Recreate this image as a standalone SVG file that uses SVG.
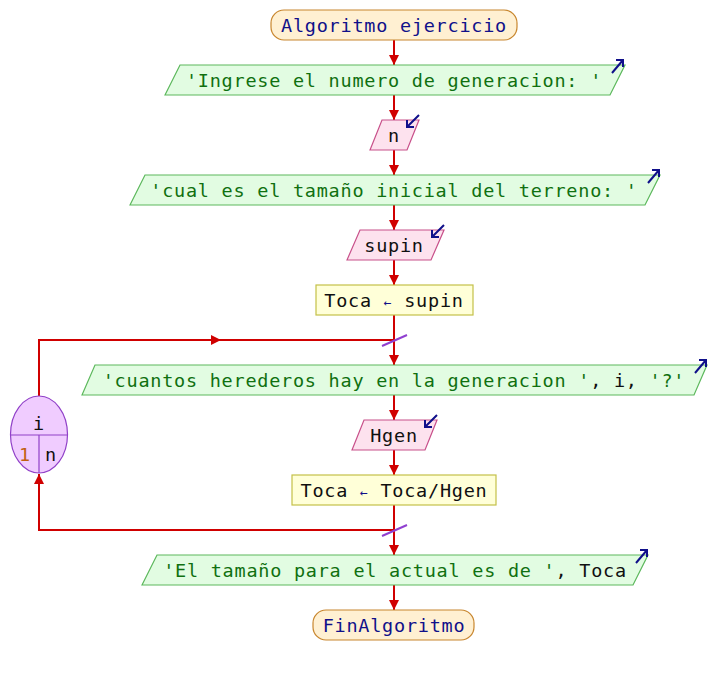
<svg xmlns="http://www.w3.org/2000/svg" width="710" height="675" viewBox="0 0 710 675">
<defs>
<marker id="ah" markerUnits="userSpaceOnUse" markerWidth="12" markerHeight="12" refX="10" refY="5" orient="auto">
<path d="M0,0 L10,5 L0,10 Z" fill="#d00000"/>
</marker>
<marker id="ahm" markerUnits="userSpaceOnUse" markerWidth="12" markerHeight="12" refX="5" refY="5" orient="auto">
<path d="M0,0 L10,5 L0,10 Z" fill="#d00000"/>
</marker>
</defs>
<style>
text{font-family:"DejaVu Sans Mono","Liberation Mono",monospace;font-size:18.5px;letter-spacing:0.75px;text-anchor:middle}
.term{fill:#fff0d2;stroke:#c8862e;stroke-width:1.2}
.out{fill:#e2fce2;stroke:#5cb85c;stroke-width:1.2}
.in{fill:#fde2ee;stroke:#c8508a;stroke-width:1.2}
.asg{fill:#ffffd8;stroke:#c4c048;stroke-width:1.2}
.loop{fill:#f0ccff;stroke:#9040c8;stroke-width:1.2}
.kw{fill:#10108a}
.str{fill:#107010}
.var{fill:#101010}
.num{fill:#c06010}
.op{fill:#10108a}
.c{fill:none;stroke:#d00000;stroke-width:2}
.ar{marker-end:url(#ah)}
.sl{stroke:#9040d0;stroke-width:2}
.ico{fill:none;stroke:#10108a;stroke-width:2}
</style>
<g id="connectors">
<path class="c ar" d="M394,40 V65"/>
<path class="c ar" d="M394,95 V120"/>
<path class="c ar" d="M394,150 V175"/>
<path class="c ar" d="M394,205 V230"/>
<path class="c ar" d="M394,260 V285"/>
<path class="c ar" d="M394,315 V365"/>
<path class="c ar" d="M394,395 V420"/>
<path class="c ar" d="M394,450 V475"/>
<path class="c ar" d="M394,505 V555"/>
<path class="c ar" d="M394,585 V610"/>
<path class="c" d="M39,396 V340 H394"/>
<path class="c" d="M39,340 H216" style="marker-end:url(#ahm)"/>
<path class="c ar" d="M394,530 H39 V474"/>
<line class="sl" x1="382" y1="346" x2="407" y2="335"/>
<line class="sl" x1="382" y1="536" x2="407" y2="525"/>
</g>
<g id="start">
<rect class="term" x="271" y="10" width="246" height="30" rx="13"/>
<text x="394" y="32" class="kw">Algoritmo ejercicio</text>
</g>
<g id="out1">
<polygon class="out" points="165,95 180,65 625,65 610,95"/>
<text x="394" y="87" class="str">'Ingrese el numero de generacion: '</text>
<path class="ico" d="M612,73 L623,60 M616,60 H623 V67"/>
</g>
<g id="in1">
<polygon class="in" points="370,150 382,120 419,120 407,150"/>
<text x="394" y="142" class="var">n</text>
<path class="ico" d="M419,115 L407,127 M407,120 V127 H414"/>
</g>
<g id="out2">
<polygon class="out" points="130,205 145,175 660,175 645,205"/>
<text x="394" y="197" class="str">'cual es el tamaño inicial del terreno: '</text>
<path class="ico" d="M648,183 L659,170 M652,170 H659 V177"/>
</g>
<g id="in2">
<polygon class="in" points="347,260 360,230 444,230 431,260"/>
<text x="394" y="252" class="var">supin</text>
<path class="ico" d="M444,225 L432,237 M432,230 V237 H439"/>
</g>
<g id="asg1">
<rect class="asg" x="316" y="285" width="157" height="30"/>
<text x="394" y="307"><tspan class="var">Toca </tspan><tspan class="op" font-size="13">←</tspan><tspan class="var"> supin</tspan></text>
</g>
<g id="loop">
<ellipse class="loop" cx="39" cy="434.5" rx="28.5" ry="38.5"/>
<line x1="10.5" y1="435" x2="67.5" y2="435" stroke="#9040c8" stroke-width="1.2"/>
<line x1="39" y1="435" x2="39" y2="473" stroke="#9040c8" stroke-width="1.2"/>
<text x="39" y="430" class="var">i</text>
<text x="25" y="461" class="num">1</text>
<text x="51" y="461" class="var">n</text>
</g>
<g id="out3">
<polygon class="out" points="82,395 95,365 707,365 694,395"/>
<text x="394" y="387"><tspan class="str">'cuantos herederos hay en la generacion '</tspan><tspan class="var">, i, </tspan><tspan class="str">'?'</tspan></text>
<path class="ico" d="M695,373 L706,360 M699,360 H706 V367"/>
</g>
<g id="in3">
<polygon class="in" points="352,450 364,420 437,420 425,450"/>
<text x="394" y="442" class="var">Hgen</text>
<path class="ico" d="M437,415 L425,427 M425,420 V427 H432"/>
</g>
<g id="asg2">
<rect class="asg" x="292" y="475" width="204" height="30"/>
<text x="394" y="497"><tspan class="var">Toca </tspan><tspan class="op" font-size="13">←</tspan><tspan class="var"> Toca/Hgen</tspan></text>
</g>
<g id="out4">
<polygon class="out" points="142,585 157,555 648,555 633,585"/>
<text x="395" y="577"><tspan class="str">'El tamaño para el actual es de '</tspan><tspan class="var">, Toca</tspan></text>
<path class="ico" d="M636,563 L647,550 M640,550 H647 V557"/>
</g>
<g id="end">
<rect class="term" x="313" y="610" width="161" height="30" rx="13"/>
<text x="394" y="632" class="kw">FinAlgoritmo</text>
</g>
</svg>
